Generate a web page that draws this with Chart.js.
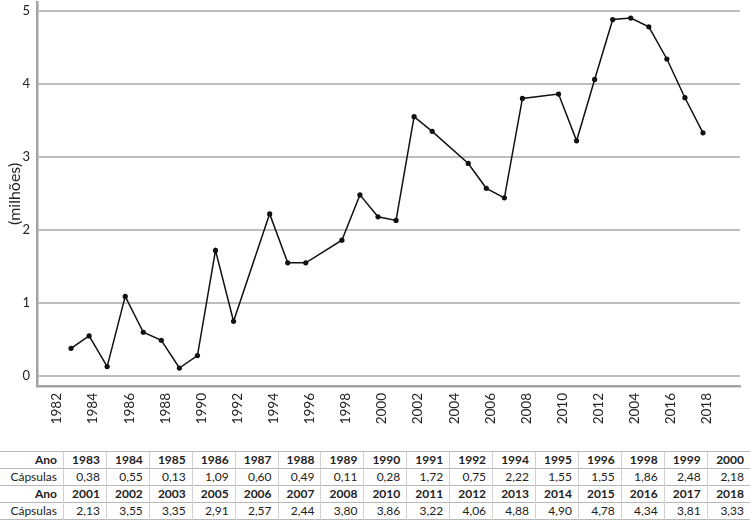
<!DOCTYPE html>
<html>
<head>
<meta charset="utf-8">
<script src="https://cdn.jsdelivr.net/npm/chart.js@4"></script>
<style>
  body { margin: 0; width: 750px; height: 520px; background: #fff; font-family: Lato, sans-serif; overflow: hidden; position: relative; }
  #wrap { position: absolute; left: 0; top: -13px; width: 750px; height: 459px; }
  table { position: absolute; top: 451px; left: 0; width: 750px; border-collapse: collapse; table-layout: fixed; font-size: 12px; color: #222; }
  td { border-left: 1px solid #d0d0d0; border-right: 1px solid #d0d0d0; height: 16px; line-height: 16px; padding: 0 6px 0 0; text-align: right; white-space: nowrap; }
  td:first-child { border-left: none; width: 57px; padding-right: 6px; }
  td:last-child { border-right: none; }
  tr { border-top: 1.5px solid #b8b8b8; border-bottom: 1.5px solid #b8b8b8; }
  tr.ano td { font-weight: bold; }
</style>
</head>
<body>
<div id="wrap"><canvas id="lineChart"></canvas></div>
<table id="dados"></table>
<script>
const anos = [
  1983, 1984, 1985, 1986, 1987, 1988, 1989, 1990, 1991, 1992, 1994, 1995, 1996, 1998, 1999, 2000,
  2001, 2002, 2003, 2005, 2006, 2007, 2008, 2010, 2011, 2012, 2013, 2014, 2015, 2016, 2017, 2018,
];
const capsulas = [
  0.38, 0.55, 0.13, 1.09, 0.60, 0.49, 0.11, 0.28, 1.72, 0.75, 2.22, 1.55, 1.55, 1.86, 2.48, 2.18,
  2.13, 3.55, 3.35, 2.91, 2.57, 2.44, 3.80, 3.86, 3.22, 4.06, 4.88, 4.90, 4.78, 4.34, 3.81, 3.33,
];
// rótulos do eixo x, como no original (inclui o "2004" no lugar de 2014)
const tickAnos = [1982, 1984, 1986, 1988, 1990, 1992, 1994, 1996, 1998, 2000, 2002, 2004, 2006, 2008, 2010, 2012, 2014, 2016, 2018];
const tickLabels = ["1982", "1984", "1986", "1988", "1990", "1992", "1994", "1996", "1998", "2000", "2002", "2004", "2006", "2008", "2010", "2012", "2004", "2016", "2018"];
const yTicks = [0, 1, 2, 3, 4, 5];

// tabela
const table = document.getElementById("dados");
const fmt = (v) => v.toFixed(2).replace(".", ",");
for (let half = 0; half < 2; half++) {
  const a = anos.slice(half * 16, half * 16 + 16);
  const c = capsulas.slice(half * 16, half * 16 + 16);
  table.insertAdjacentHTML("beforeend",
    '<tr class="ano"><td>Ano</td>' + a.map((x) => "<td>" + x + "</td>").join("") + "</tr>" +
    "<tr><td>Cápsulas</td>" + c.map((x) => "<td>" + fmt(x) + "</td>").join("") + "</tr>");
}

const lineChart = document.getElementById("lineChart");

new Chart(lineChart, {
  type: "line",
  data: {
    datasets: [
      {
        data: anos.map((a, i) => ({ x: a, y: capsulas[i] })),
        borderColor: "#111",
        backgroundColor: "#111",
        borderWidth: 1.5,
        pointRadius: 2.6,
        pointBorderWidth: 0,
        tension: 0,
      },
    ],
  },
  options: {
    responsive: true,
    maintainAspectRatio: false,
    animation: false,
    layout: { padding: { top: 0, right: 10, left: 0, bottom: 0 } },
    plugins: { legend: { display: false }, tooltip: { enabled: false } },
    scales: {
      x: {
        type: "linear",
        min: 1981.114,
        max: 2020.05,
        afterBuildTicks: (s) => { s.ticks = tickAnos.map((v) => ({ value: v })); },
        afterFit: (s) => { s.height = 60; },
        grid: { display: false, drawTicks: false },
        border: { display: true, color: "#a3a3a3", width: 2.5 },
        ticks: {
          minRotation: 90,
          maxRotation: 90,
          padding: 7,
          labelOffset: 4,
          color: "#222",
          font: { family: "Lato", size: 13.5 },
          callback: (v) => tickLabels[tickAnos.indexOf(v)],
        },
      },
      y: {
        min: -0.136,
        max: 5.123,
        afterBuildTicks: (s) => { s.ticks = yTicks.map((v) => ({ value: v })); },
        afterFit: (s) => { s.width = 37; },
        grid: { color: "#bdbdbd", lineWidth: 2, drawTicks: false },
        border: { display: true, color: "#a3a3a3", width: 2.5 },
        ticks: {
          padding: 7,
          color: "#222",
          font: { family: "Lato", size: 13 },
        },
        title: {
          display: true,
          text: "(milhões)",
          color: "#222",
          padding: { top: 5, bottom: 0 },
          font: { family: "Lato", size: 16 },
        },
      },
    },
  },
});
</script>
</body>
</html>
